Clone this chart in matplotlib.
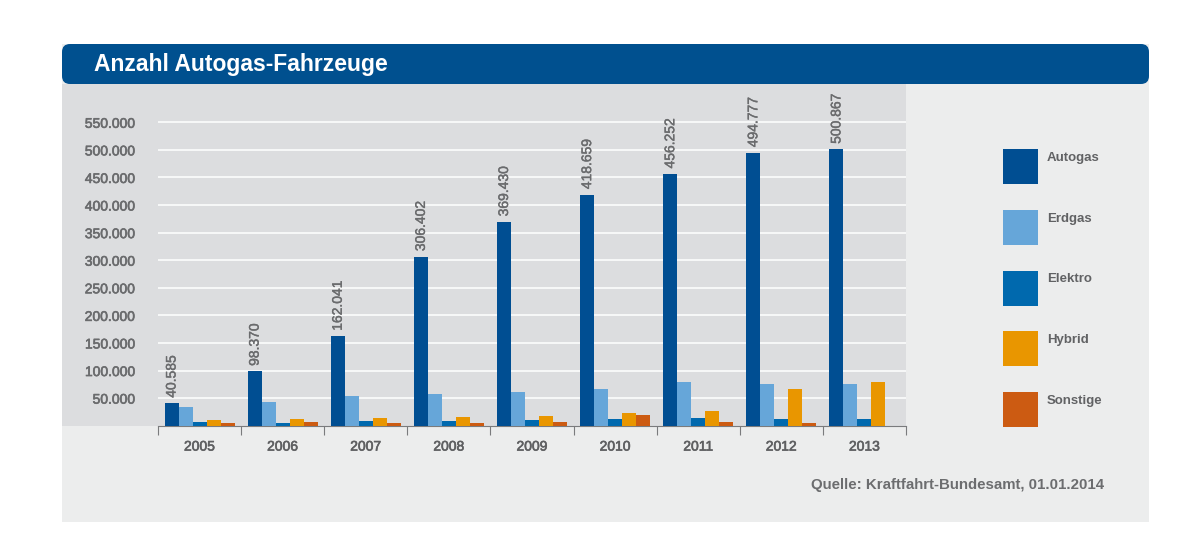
import matplotlib
matplotlib.use("Agg")
import matplotlib.pyplot as plt
from matplotlib.patches import Rectangle, FancyBboxPatch
import matplotlib.patheffects as pe
import numpy as np

plt.rcParams['font.family'] = ['Liberation Sans', 'DejaVu Sans']

years = ["2005", "2006", "2007", "2008", "2009", "2010", "2011", "2012", "2013"]
series = ["Autogas", "Erdgas", "Elektro", "Hybrid", "Sonstige"]
autogas = [40585, 98370, 162041, 306402, 369430, 418659, 456252, 494777, 500867]
autogas_labels = ["40.585", "98.370", "162.041", "306.402", "369.430",
                  "418.659", "456.252", "494.777", "500.867"]
erdgas = [34300, 43300, 53600, 56700, 61400, 66800, 78900, 75800, 75300]
elektro = [6600, 5400, 7800, 7800, 9600, 11400, 13200, 12000, 12000]
hybrid = [9600, 12000, 13200, 15000, 16800, 23500, 26500, 66200, 78900]
sonstige = [5400, 6600, 4800, 4200, 6600, 18700, 6600, 4800, 0]
ytick_values = [50000, 100000, 150000, 200000, 250000, 300000, 350000,
                400000, 450000, 500000, 550000]
ytick_labels = ["50.000", "100.000", "150.000", "200.000", "250.000", "300.000",
                "350.000", "400.000", "450.000", "500.000", "550.000"]
colors = ["#004E92", "#66A6D9", "#0069AE", "#E99600", "#CC5B12"]
title = "Anzahl Autogas-Fahrzeuge"
source = "Quelle: Kraftfahrt-Bundesamt, 01.01.2014"

W, H = 1200, 560
fig = plt.figure(figsize=(W / 100, H / 100), dpi=100)
fig.patch.set_facecolor("white")


def fx(px):
    return px / W


def fy(py):
    return 1 - py / H


def heavy(color, lw=0.45):
    return [pe.withStroke(linewidth=lw, foreground=color)]


# Panel background
fig.patches.append(Rectangle((fx(62), fy(522)), fx(1149) - fx(62), fy(44) - fy(522),
                             transform=fig.transFigure, facecolor="#ECEDED",
                             edgecolor="none", zorder=0))
# Plot region background
fig.patches.append(Rectangle((fx(62), fy(425.7)), fx(906) - fx(62), fy(84) - fy(425.7),
                             transform=fig.transFigure, facecolor="#DCDDDF",
                             edgecolor="none", zorder=0.5))
# Title bar
fig.patches.append(FancyBboxPatch((62, H - 84), 1149 - 62, 40,
                                  boxstyle="round,pad=0,rounding_size=8",
                                  transform=None, facecolor="#00508F",
                                  edgecolor="none", zorder=1))
fig.text(fx(94), fy(65), title, color="white", fontsize=16.5, fontweight="bold",
         ha="left", va="center", zorder=2)

# Axes
ax = fig.add_axes([fx(158), fy(425.7), fx(906) - fx(158), fy(84) - fy(425.7)])
ax.set_facecolor("none")
ax.set_zorder(2)
ymax = 550000 * (425.7 - 84) / (425.7 - 122.3)
ax.set_ylim(0, ymax)
ax.set_xlim(-0.5, len(years) - 0.5)

x = np.arange(len(years))
w = 14 / 83.1
data = [autogas, erdgas, elektro, hybrid, sonstige]
bars_auto = None
for i, (vals, c) in enumerate(zip(data, colors)):
    b = ax.bar(x + (i - 2) * w, vals, width=w, color=c, edgecolor="none", zorder=3,
               label=series[i])
    if i == 0:
        bars_auto = b

lab_color = "#6A6B6D"
for rect, lab in zip(bars_auto, autogas_labels):
    ax.annotate(lab, (rect.get_x() + rect.get_width() / 2, rect.get_height()),
                xytext=(0, 4), textcoords="offset points", rotation=90,
                ha="center", va="bottom", fontsize=10, color=lab_color, zorder=4,
                path_effects=heavy(lab_color, 0.3))

ax.set_yticks(ytick_values)
ax.set_yticklabels(ytick_labels)
ax.yaxis.grid(True, color="white", linewidth=1.1, zorder=1)
ax.set_axisbelow(True)
ax.tick_params(axis="y", length=0, pad=16.5, labelsize=10, labelcolor=lab_color)
for t in ax.get_yticklabels():
    t.set_path_effects(heavy(lab_color))

ax.set_xticks(x)
ax.set_xticklabels(years)
ax.set_xticks(np.arange(len(years) + 1) - 0.5, minor=True)
ax.tick_params(axis="x", which="major", length=0, pad=10, labelsize=10,
               labelcolor="#5F6062")
for t in ax.get_xticklabels():
    t.set_path_effects(heavy("#5F6062"))
ax.tick_params(axis="x", which="minor", length=6.8, width=0.8, color="#7A7B7D",
               direction="out")
for s in ["top", "right", "left"]:
    ax.spines[s].set_visible(False)
ax.spines["bottom"].set_color("#7A7B7D")
ax.spines["bottom"].set_linewidth(0.8)

# Legend
for i, (name, c) in enumerate(zip(series, colors)):
    top = 149.3 + i * 60.6
    fig.patches.append(Rectangle((fx(1003), fy(top + 35)), fx(35), 35 / H,
                                 transform=fig.transFigure, facecolor=c,
                                 edgecolor="none", zorder=2))
    fig.text(fx(1047), fy(top + 9), name, color="#616264", fontsize=9.5,
             fontweight="bold", ha="left", va="center", zorder=3)

fig.text(fx(1104), fy(485), source, color="#6C6D6F", fontsize=10.8,
         fontweight="bold", ha="right", va="center")

fig.savefig("out.png", dpi=100, facecolor=fig.get_facecolor())
